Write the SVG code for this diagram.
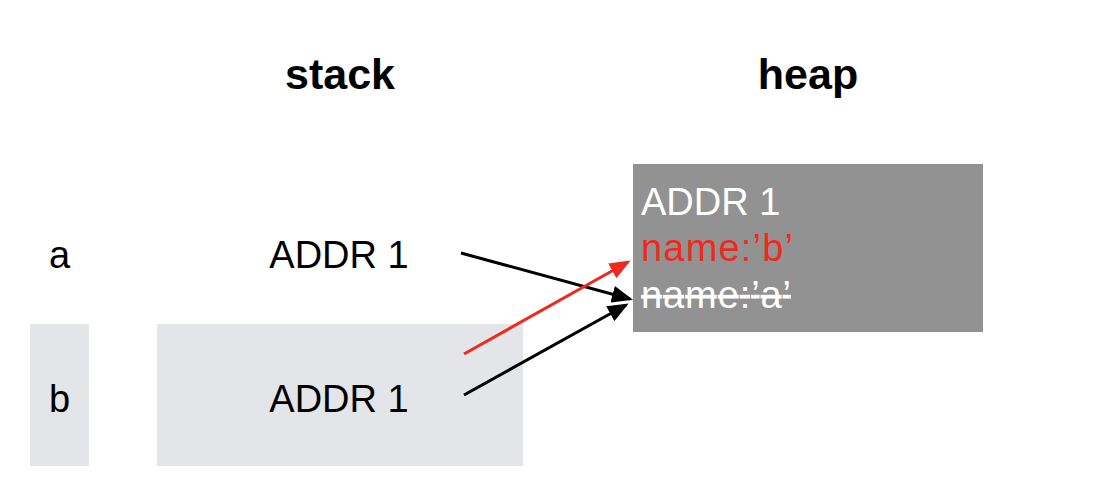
<svg xmlns="http://www.w3.org/2000/svg" width="1110" height="502" viewBox="0 0 1110 502">
<defs>
<style>
text{font-family:"Liberation Sans",Arial,Helvetica,sans-serif;font-size:38px}
.title{font-weight:bold;font-size:43px;fill:#000;text-anchor:middle}
.lbl{fill:#000}
.mid{text-anchor:middle}
.light{fill:#E4E5E8}
.heap{fill:#929292}
.w{fill:#fff}
.r{fill:#EE2A1E}
.conn{stroke-width:3;fill:none}
</style>
<marker id="ah" markerUnits="userSpaceOnUse" markerWidth="21" markerHeight="17" viewBox="0 0 21 17" refX="18" refY="8.5" orient="auto">
<path d="M0,0 L21,8.5 L0,17 z" fill="#000"/>
</marker>
<marker id="ahr" markerUnits="userSpaceOnUse" markerWidth="21" markerHeight="17" viewBox="0 0 21 17" refX="18" refY="8.5" orient="auto">
<path d="M0,0 L21,8.5 L0,17 z" fill="#EE2A1E"/>
</marker>
</defs>
<rect width="1110" height="502" fill="#fff"/>
<g id="title-stack"><text class="title" x="340" y="89">stack</text></g>
<g id="title-heap"><text class="title" x="808" y="89">heap</text></g>
<g id="var-a"><text class="lbl" x="49" y="268">a</text></g>
<g id="var-b"><rect class="light" x="30" y="324" width="59" height="142"/><text class="lbl" x="49" y="412">b</text></g>
<g id="stack-a"><text class="lbl mid" x="339" y="268">ADDR 1</text></g>
<g id="stack-b"><rect class="light" x="157" y="324" width="366" height="142"/><text class="lbl mid" x="339" y="412">ADDR 1</text></g>
<g id="heap-obj">
<rect class="heap" x="633" y="164" width="350" height="168"/>
<text class="w" x="641" y="215">ADDR 1</text>
<text class="r" x="641" y="261" textLength="152" lengthAdjust="spacing">name:’b’</text>
<text class="w" x="641" y="308" textLength="150" lengthAdjust="spacing" text-decoration="line-through">name:’a’</text>
</g>
<g id="connectors">
<line class="conn" stroke="#000" x1="461" y1="253" x2="630" y2="299" marker-end="url(#ah)"/>
<line class="conn" stroke="#EE2A1E" x1="464" y1="354" x2="628" y2="262" marker-end="url(#ahr)"/>
<line class="conn" stroke="#000" x1="464" y1="395" x2="626" y2="305" marker-end="url(#ah)"/>
</g>
</svg>
